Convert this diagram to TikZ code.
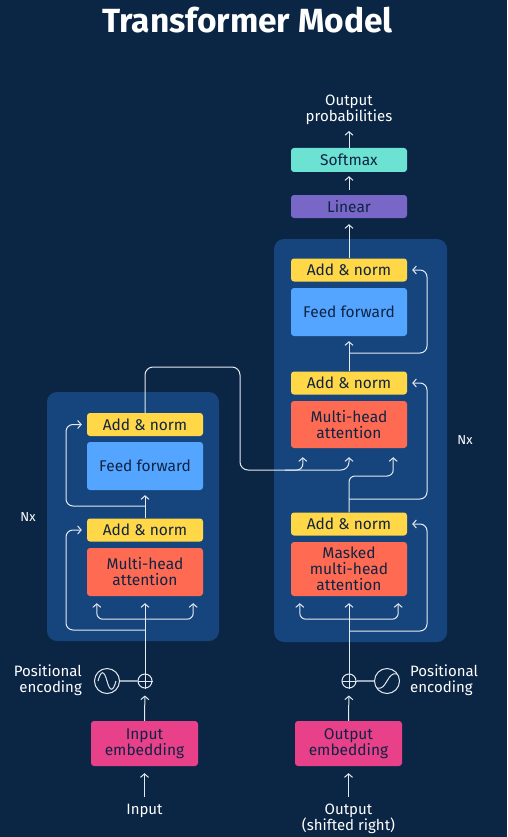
\documentclass[tikz,border=0pt]{standalone}
\usepackage{fontspec}
\setmainfont{Fira Sans}
\usetikzlibrary{arrows.meta}

\definecolor{navy}{HTML}{0B2545}
\definecolor{panel}{HTML}{16457E}
\definecolor{addyellow}{HTML}{FFD747}
\definecolor{ffblue}{HTML}{54A5FF}
\definecolor{attnred}{HTML}{FF6A52}
\definecolor{embpink}{HTML}{E9408A}
\definecolor{smteal}{HTML}{6BE2D2}
\definecolor{linpurple}{HTML}{7867C6}
\definecolor{boxtext}{HTML}{0F2444}
\definecolor{wirecol}{HTML}{E4EAF1}
\definecolor{encline}{HTML}{9AA8B8}

\tikzset{
  block/.style={rectangle, rounded corners=3pt, minimum width=116pt, text=boxtext,
    font=\fontsize{15.5}{16}\selectfont, align=center, inner sep=0pt},
  addnorm/.style={block, fill=addyellow, minimum height=23pt},
  feedfwd/.style={block, fill=ffblue, minimum height=48pt},
  attn/.style={block, fill=attnred, minimum height=48pt},
  embed/.style={block, fill=embpink, minimum width=107pt, minimum height=45pt},
  wire/.style={draw=wirecol, line width=1pt},
  arr/.style={wire, -{Straight Barb[length=3.5pt,width=8pt]}},
  biarr/.style={wire, {Straight Barb[length=3.5pt,width=8pt]}-{Straight Barb[length=3.5pt,width=8pt]}},
  txt/.style={text=white, font=\fontsize{15}{16}\selectfont, align=center, inner sep=1pt},
  plus/.style={circle, draw=wirecol, line width=1pt, minimum size=14pt, inner sep=0pt},
  wave/.style={circle, draw=wirecol, line width=1pt, minimum size=25pt, inner sep=0pt}
}

\begin{document}
\begin{tikzpicture}[x=1pt,y=-1pt]
\fill[navy] (0,0) rectangle (507,837);
\useasboundingbox (0,0) rectangle (507,837);

\node[text=white, font=\bfseries\fontsize{33.5}{36}\selectfont] (title) at (247.5,20) {Transformer Model};

% the two stacks
\fill[panel, rounded corners=10pt] (47,392) rectangle (219,641);
\fill[panel, rounded corners=10pt] (274,239) rectangle (447,642);

\node[txt, font=\fontsize{13}{15}\selectfont] (nxL) at (28,517) {Nx};
\node[txt, font=\fontsize{13}{15}\selectfont] (nxR) at (465,440) {Nx};

% encoder
\node[addnorm] (encAddB) at (145,424.5) {Add \& norm};
\node[feedfwd] (encFF) at (145,466) {Feed forward};
\node[addnorm] (encAddA) at (145,530) {Add \& norm};
\node[attn] (encMHA) at (145,572) {Multi-head\\attention};

% decoder
\node[addnorm] (decAddC) at (349,270) {Add \& norm};
\node[feedfwd] (decFF) at (349,312) {Feed forward};
\node[addnorm] (decAddB) at (349,383) {Add \& norm};
\node[attn, minimum height=47pt] (decMHA) at (349,424.5) {Multi-head\\attention};
\node[addnorm] (decAddA) at (349,524) {Add \& norm};
\node[attn, minimum height=54pt] (decMMHA) at (349,569) {Masked\\multi-head\\attention};

\node[block, fill=linpurple, minimum height=23pt] (linear) at (349,206.5) {Linear};
\node[block, fill=smteal, minimum height=24pt] (softmax) at (349,160) {Softmax};
\node[txt] (probs) at (349,110) {Output\\probabilities};

% inputs
\node[embed] (inEmb) at (144.5,743.5) {Input\\embedding};
\node[embed] (outEmb) at (348.5,743.5) {Output\\embedding};
\node[txt] (inTxt) at (144.5,811) {Input};
\node[txt] (outTxt) at (348.5,819) {Output\\(shifted right)};

\node[plus] (plusL) at (145,681) {};
\node[plus] (plusR) at (349,681) {};
\node[wave] (sinL) at (107,681) {};
\node[wave] (sinR) at (387,681) {};
\node[txt, align=right, anchor=east] (posL) at (83,680) {Positional\\encoding};
\node[txt, align=left, anchor=west] (posR) at (409,680) {Positional\\encoding};

\draw[wirecol, line width=0.8pt] (plusL.north) -- (plusL.south) (plusL.west) -- (plusL.east);
\draw[wirecol, line width=0.8pt] (plusR.north) -- (plusR.south) (plusR.west) -- (plusR.east);
\draw[wirecol, line width=1pt] (98,681) .. controls (101,670) and (104,670) .. (107,681)
  .. controls (110,692) and (113,692) .. (116,681);
\draw[wirecol, line width=1pt] (377,688) .. controls (387,691) and (387,671) .. (397,674);
\draw[encline, line width=1.5pt] (sinL) -- (plusL);
\draw[encline, line width=1.5pt] (plusR) -- (sinR);

\draw[arr, shorten <=6pt, shorten >=7pt] (inTxt.north) -- (inEmb.south);
\draw[arr, shorten <=6pt, shorten >=7pt] (outTxt.north) -- (outEmb.south);
\draw[arr, shorten >=7pt] (inEmb.north) -- (plusL.south);
\draw[arr, shorten >=7pt] (outEmb.north) -- (plusR.south);

% encoder wiring
\coordinate (encRes1) at (145,630);
\coordinate (encRes2) at (145,506);
\draw[arr, shorten >=7pt] (plusL.north) -- (encMHA.south);
\draw[biarr, rounded corners=6pt] ([xshift=10pt,yshift=-7pt]encMHA.south west) -- ++(0,16)
  -| ([xshift=-10pt,yshift=-7pt]encMHA.south east);
\draw[arr, rounded corners=7pt, shorten >=5pt] (encRes1) -| (66,530) -- (encAddA.west);
\draw[arr, shorten >=5pt] (encAddA.north) -- (encFF.south);
\draw[arr, rounded corners=7pt, shorten >=5pt] (encRes2) -| (66,424.5) -- (encAddB.west);

% encoder output into the decoder
\coordinate (encOut) at (240,470);
\coordinate (encSplit) at (285,470);
\draw[arr, rounded corners=8pt, shorten >=9pt] (encAddB.north) |- (240,367) -- (encOut) -| (decMHA.south);
\draw[arr, rounded corners=6pt] (encSplit) -| ([xshift=12pt,yshift=-9pt]decMHA.south west);

% decoder wiring
\coordinate (decRes1) at (349,631);
\coordinate (decRes2) at (349,499);
\coordinate (decRes3) at (349,353);
\draw[arr, shorten >=7pt] (plusR.north) -- (decMMHA.south);
\draw[biarr, rounded corners=6pt] ([xshift=9pt,yshift=-7pt]decMMHA.south west) -- ++(0,16)
  -| ([xshift=-9pt,yshift=-7pt]decMMHA.south east);
\draw[arr, rounded corners=7pt, shorten >=5pt] (decRes1) -| (427,524) -- (decAddA.east);
\draw[arr, rounded corners=6pt] (decAddA.north) -- (349,476)
  -| ([xshift=-14pt,yshift=-9pt]decMHA.south east);
\draw[arr, rounded corners=7pt, shorten >=5pt] (decRes2) -| (427,383) -- (decAddB.east);
\draw[arr, shorten >=5pt] (decAddB.north) -- (decFF.south);
\draw[arr, rounded corners=7pt, shorten >=5pt] (decRes3) -| (427,270) -- (decAddC.east);
\draw[arr, shorten >=6pt] (decAddC.north) -- (linear.south);
\draw[arr, shorten <=5pt, shorten >=4pt] (linear.north) -- (softmax.south);
\draw[arr, shorten >=5pt] (softmax.north) -- (probs.south);
\end{tikzpicture}
\end{document}
